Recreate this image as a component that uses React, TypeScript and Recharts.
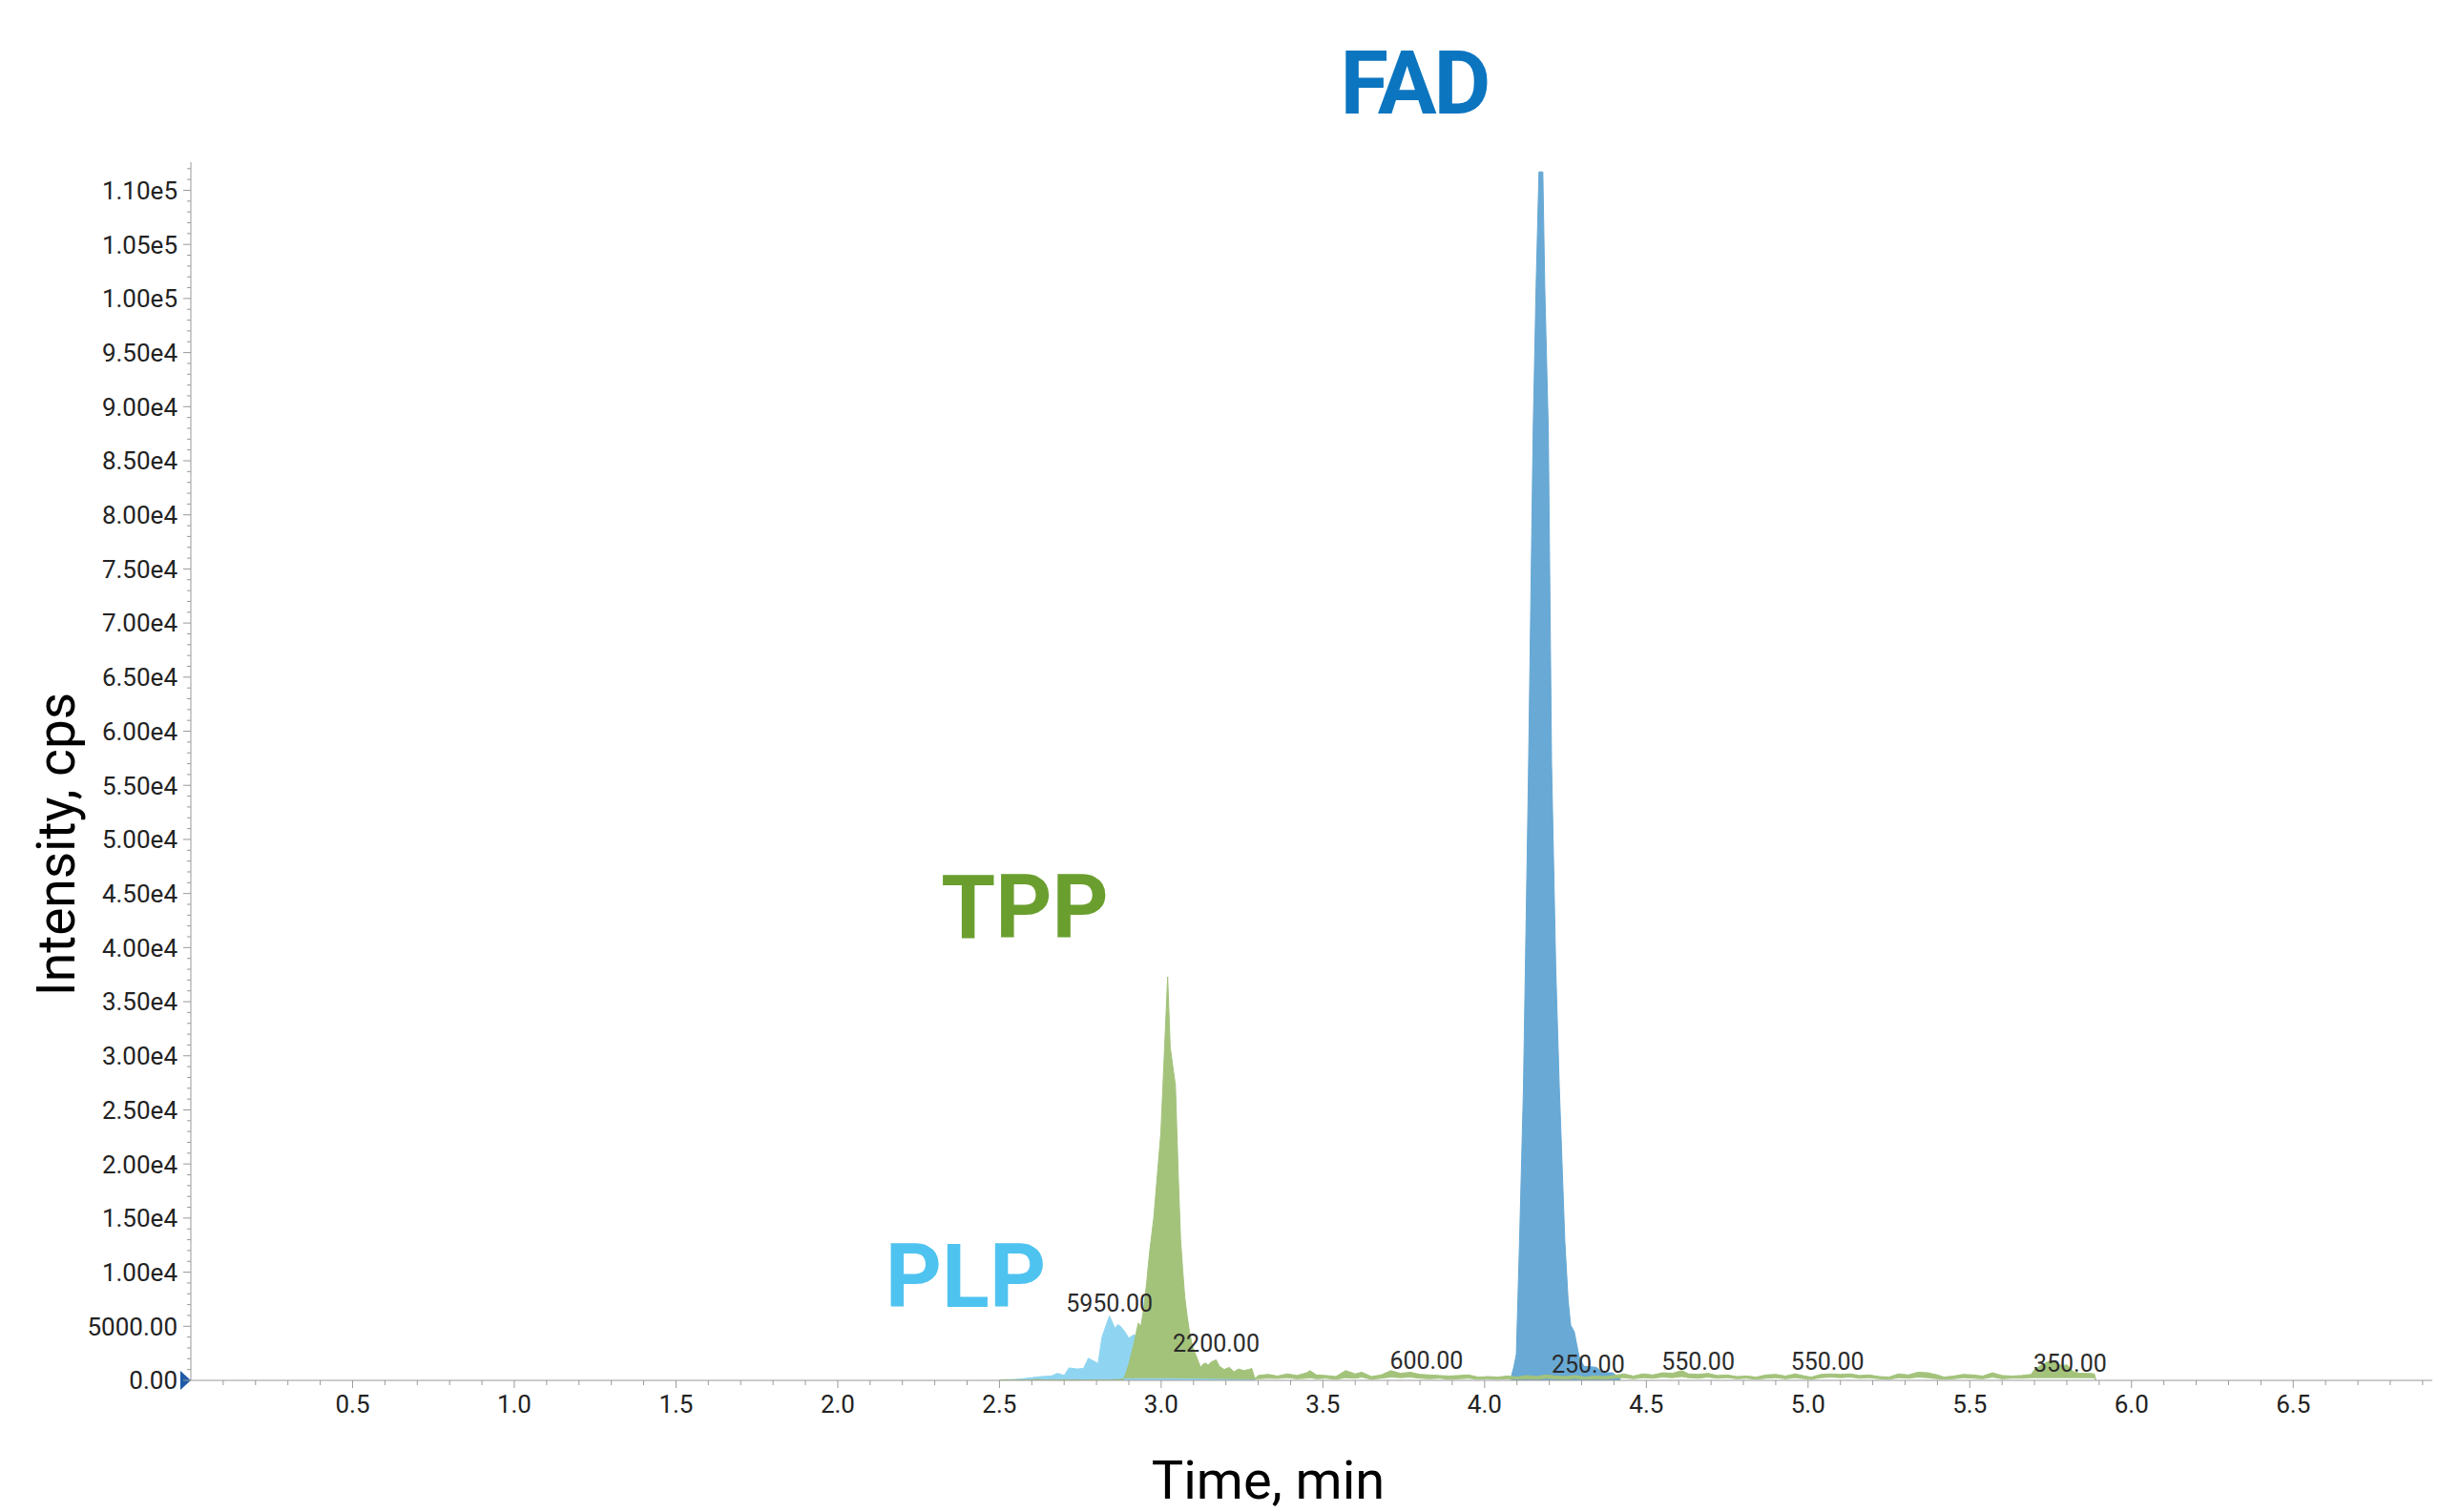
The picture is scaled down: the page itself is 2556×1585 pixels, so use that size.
import React from 'react';
import { ComposedChart, Area, XAxis, YAxis, ReferenceDot } from 'recharts';

// PLP trace: [time (min), intensity (cps)]
const plpTrace: [number, number][] = [
  [2.5, 0], [2.53, 60], [2.56, 100], [2.6, 250], [2.63, 350], [2.66, 400], [2.68, 650],
  [2.7, 450], [2.715, 1150], [2.74, 1050], [2.76, 1100], [2.775, 2050], [2.79, 1800],
  [2.805, 1550], [2.817, 4000], [2.83, 5100], [2.84, 5950], [2.85, 5300], [2.857, 4800],
  [2.866, 5150], [2.874, 5000], [2.885, 4600], [2.9, 3900], [2.915, 4200], [2.93, 4100],
  [2.95, 3900], [2.97, 3300], [3.0, 3000], [3.03, 2600], [3.06, 1800], [3.1, 1400],
  [3.15, 1000], [3.2, 800], [3.25, 600], [3.289, 300], [3.29, 0],
];

// TPP trace: [time (min), band low (cps), band high (cps)]
const tppTrace: [number, number, number][] = [
  [2.5, 0, 0], [2.52, 0, 70], [2.54, 0, 20], [2.56, 0, 60], [2.58, 0, 10], [2.6, 0, 50],
  [2.62, 0, 90], [2.64, 0, 30], [2.66, 0, 60], [2.68, 0, 20], [2.7, 0, 70], [2.72, 0, 40],
  [2.74, 0, 60], [2.76, 0, 20], [2.78, 0, 50], [2.8, 0, 30], [2.82, 0, 60], [2.84, 0, 40],
  [2.86, 0, 70], [2.88, 0, 100],
  [2.886, 240, 260], [2.9, 240, 1500], [2.915, 240, 3300], [2.929, 240, 5300], [2.937, 240, 5000],
  [2.944, 240, 6200], [2.955, 240, 9000], [2.964, 240, 11800], [2.977, 240, 15000],
  [2.991, 240, 20000], [2.999, 240, 22900], [3.009, 240, 29700], [3.02, 240, 37300],
  [3.028, 240, 30800], [3.036, 240, 29000], [3.044, 240, 27300], [3.053, 230, 18800],
  [3.06, 230, 13000], [3.067, 230, 10000], [3.073, 220, 7700], [3.08, 220, 6000],
  [3.088, 220, 4400], [3.098, 210, 3000], [3.109, 210, 2200], [3.122, 200, 1200],
  [3.13, 200, 1500], [3.137, 200, 1600], [3.145, 190, 1400], [3.155, 190, 1700],
  [3.17, 180, 1900], [3.18, 180, 1300], [3.195, 170, 1000], [3.21, 170, 1200],
  [3.225, 160, 800], [3.24, 150, 1050], [3.255, 150, 900], [3.27, 140, 1000],
  [3.28, 140, 1100], [3.29, 130, 150],
  [3.3, 150, 450], [3.33, 200, 550], [3.36, 180, 400], [3.39, 250, 600], [3.42, 150, 450],
  [3.45, 200, 700], [3.46, 250, 900], [3.48, 150, 500], [3.51, 200, 450], [3.54, 100, 350],
  [3.57, 250, 900], [3.6, 200, 600], [3.62, 300, 750], [3.65, 100, 350], [3.68, 200, 500],
  [3.71, 300, 900], [3.74, 250, 650], [3.77, 300, 750], [3.8, 200, 550], [3.83, 150, 500],
  [3.86, 200, 450], [3.89, 100, 400], [3.92, 150, 450], [3.95, 200, 500], [3.98, 100, 300],
  [4.01, 150, 350], [4.04, 100, 300], [4.07, 150, 400], [4.1, 100, 300], [4.13, 150, 450],
  [4.16, 100, 350], [4.19, 200, 500], [4.22, 150, 400], [4.25, 100, 350], [4.28, 200, 450],
  [4.31, 100, 300], [4.34, 150, 400], [4.37, 100, 350], [4.4, 200, 450], [4.43, 250, 600],
  [4.46, 150, 400], [4.49, 250, 600], [4.52, 200, 500], [4.55, 300, 700], [4.58, 250, 650],
  [4.61, 350, 900], [4.63, 250, 600], [4.66, 200, 550], [4.69, 300, 650], [4.72, 200, 450],
  [4.75, 250, 500], [4.78, 150, 350], [4.81, 200, 400], [4.84, 100, 300], [4.87, 200, 500],
  [4.9, 250, 550], [4.93, 150, 400], [4.96, 250, 600], [4.99, 150, 400], [5.01, 100, 300],
  [5.04, 250, 550], [5.07, 300, 600], [5.1, 250, 550], [5.13, 300, 600], [5.16, 200, 450],
  [5.19, 250, 500], [5.22, 150, 350], [5.25, 100, 300], [5.28, 250, 600], [5.31, 200, 500],
  [5.34, 300, 750], [5.37, 250, 700], [5.4, 150, 500], [5.42, 100, 300], [5.45, 150, 400],
  [5.48, 250, 550], [5.51, 200, 500], [5.54, 150, 400], [5.57, 300, 700], [5.6, 150, 450],
  [5.63, 200, 400], [5.66, 200, 450], [5.69, 250, 550], [5.7, 250, 1000], [5.72, 250, 1400],
  [5.74, 250, 1700], [5.755, 250, 1850], [5.77, 250, 1500], [5.79, 250, 1350], [5.8, 250, 1450],
  [5.82, 250, 800], [5.84, 250, 650], [5.87, 250, 650], [5.885, 250, 600], [5.89, 0, 0],
];

// FAD trace: [time (min), intensity (cps)]
const fadTrace: [number, number][] = [
  [4.081, 200], [4.09, 1200], [4.098, 2400], [4.108, 12900], [4.12, 27000], [4.135, 55000],
  [4.15, 87800], [4.159, 101000], [4.168, 111700], [4.18, 111700], [4.186, 101000],
  [4.197, 87800], [4.207, 57000], [4.22, 38000], [4.231, 27000], [4.248, 12900],
  [4.258, 7500], [4.266, 5100], [4.277, 4500], [4.292, 2200], [4.307, 1300], [4.33, 1250],
  [4.346, 1200], [4.366, 700], [4.395, 700], [4.42, 200],
];

// apex labels
const peakTimes = [2.84, 3.17, 3.82, 4.32, 4.66, 5.06, 5.81];
const peakValues = [5950, 2200, 600, 250, 550, 550, 350];

const xTickLabels = [0.5, 1.0, 1.5, 2.0, 2.5, 3.0, 3.5, 4.0, 4.5, 5.0, 5.5, 6.0, 6.5];
const yTickLabels = [
  0, 5000, 10000, 15000, 20000, 25000, 30000, 35000, 40000, 45000, 50000, 55000, 60000,
  65000, 70000, 75000, 80000, 85000, 90000, 95000, 100000, 105000, 110000,
];

const plpData = plpTrace.map(([t, v]) => ({ t, v }));
const tppData = tppTrace.map(([t, lo, hi]) => ({ t, band: [lo, hi] }));
const fadData = fadTrace.map(([t, v]) => ({ t, v }));

// minor ticks every 0.1 min / 1000 cps
const xTicks = Array.from({ length: 69 }, (_, i) => (i + 1) / 10);
const yTicks = Array.from({ length: 113 }, (_, i) => i * 1000);

const AXIS = '#9a9a9a';
const FONT = 'Roboto, "Noto Sans", sans-serif';

const fmtY = (v: number) => (v < 10000 ? v.toFixed(2) : v.toExponential(2).replace('e+', 'e'));

const XTick = ({ x, y, payload }: any) => {
  const major = xTickLabels.includes(payload.value);
  return (
    <g>
      <line x1={x} x2={x} y1={y} y2={y + (major ? 8 : 5)} stroke={AXIS} />
      {major && (
        <text x={x} y={y + 34} textAnchor="middle" fontSize={26} fill="#222" fontFamily={FONT}>
          {payload.value.toFixed(1)}
        </text>
      )}
    </g>
  );
};

const YTick = ({ x, y, payload }: any) => {
  const major = yTickLabels.includes(payload.value);
  return (
    <g>
      <line x1={x - (major ? 8 : 4)} x2={x} y1={y} y2={y} stroke={AXIS} />
      {major && (
        <text x={x - 14} y={y} dy="0.36em" textAnchor="end" fontSize={26} fill="#222" fontFamily={FONT}>
          {fmtY(payload.value)}
        </text>
      )}
    </g>
  );
};

const originMarker = (p: any) => (
  <polygon points={`${p.cx - 11},${p.cy - 10} ${p.cx},${p.cy} ${p.cx - 11},${p.cy + 10}`} fill="#1f5aa8" />
);

export default function App() {
  return (
    <div style={{ position: 'absolute', left: 0, top: 0, width: 2556, height: 1585, background: '#fff', fontFamily: FONT }}>
      <ComposedChart width={2556} height={1585} margin={{ top: 170, right: 7, bottom: 88, left: 0 }}>
        <XAxis
          type="number"
          dataKey="t"
          domain={[0, 6.93]}
          ticks={xTicks}
          interval={0}
          tickSize={0}
          tickMargin={0}
          tickLine={false}
          axisLine={{ stroke: AXIS }}
          tick={(p: any) => <XTick {...p} />}
          height={50}
          allowDataOverflow
        />
        <YAxis
          type="number"
          domain={[0, 112600]}
          ticks={yTicks}
          interval={0}
          tickSize={0}
          tickMargin={0}
          tickLine={false}
          axisLine={{ stroke: AXIS }}
          tick={(p: any) => <YTick {...p} />}
          width={200}
          allowDataOverflow
        />
        <Area data={plpData} dataKey="v" type="linear" fill="#8fd5f2" stroke="#8fd5f2" strokeWidth={1} fillOpacity={1} isAnimationActive={false} />
        <Area data={fadData} dataKey="v" type="linear" fill="#68a9d5" stroke="#68a9d5" strokeWidth={1} fillOpacity={1} isAnimationActive={false} />
        <Area data={tppData} dataKey="band" type="linear" fill="#a3c37b" stroke="#a3c37b" strokeWidth={1} fillOpacity={1} isAnimationActive={false} />
        {peakTimes.map((t, i) => (
          <ReferenceDot
            key={i}
            x={t}
            y={peakValues[i]}
            r={0}
            fill="none"
            stroke="none"
            label={{ value: peakValues[i].toFixed(2), position: 'top', offset: 5, fontSize: 25, fill: '#2b2b2b', fontFamily: FONT }}
          />
        ))}
        <ReferenceDot x={0} y={0} r={0} shape={originMarker} />
      </ComposedChart>
      <svg width={2556} height={1585} style={{ position: 'absolute', left: 0, top: 0, pointerEvents: 'none' }}>
        <text x={1482} y={119} textAnchor="middle" fontSize={92} fontWeight={700} fill="#0b75c0" fontFamily={FONT} letterSpacing={-3}>FAD</text>
        <text x={1074} y={983} textAnchor="middle" fontSize={92} fontWeight={700} fill="#6a9f2f" fontFamily={FONT}>TPP</text>
        <text x={1012} y={1370} textAnchor="middle" fontSize={92} fontWeight={700} fill="#4fc3ef" fontFamily={FONT}>PLP</text>
        <text x={1329} y={1571} textAnchor="middle" fontSize={56} fill="#000" fontFamily={FONT}>Time, min</text>
        <text x={78} y={885} textAnchor="middle" fontSize={55} fill="#000" fontFamily={FONT} transform="rotate(-90 78 885)">Intensity, cps</text>
      </svg>
    </div>
  );
}
